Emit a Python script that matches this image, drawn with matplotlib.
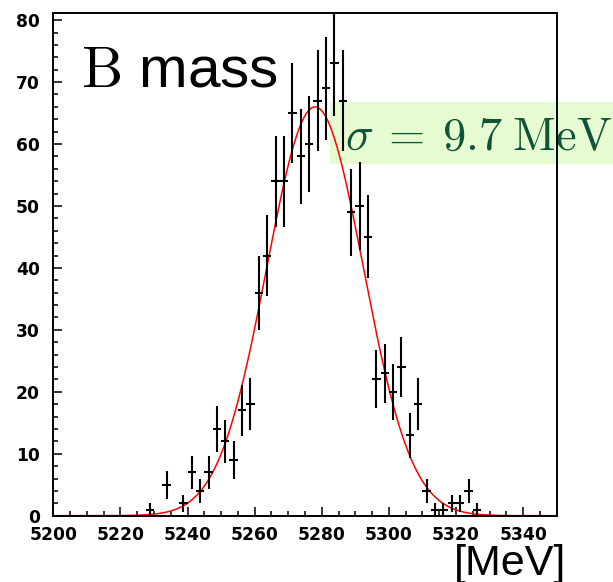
import numpy as np
import matplotlib
matplotlib.use("Agg")
import matplotlib.pyplot as plt
from matplotlib.patches import Rectangle
from matplotlib.ticker import MultipleLocator

plt.rcParams['mathtext.fontset'] = 'cm'

# ---- data ----
bin_centers = [5228.75, 5233.75, 5238.75, 5241.25, 5243.75, 5246.25, 5248.75,
               5251.25, 5253.75, 5256.25, 5258.75, 5261.25, 5263.75, 5266.25,
               5268.75, 5271.25, 5273.75, 5276.25, 5278.75, 5281.25, 5283.75,
               5286.25, 5288.75, 5291.25, 5293.75, 5296.25, 5298.75, 5301.25,
               5303.75, 5306.25, 5308.75, 5311.25, 5313.75, 5316.25, 5318.75,
               5321.25, 5323.75, 5326.25]
counts = [1, 5, 2, 7, 4, 7, 14, 12, 9, 17, 18, 36, 42, 54, 54, 65, 58, 60, 67,
          69, 73, 67, 49, 50, 45, 22, 23, 20, 24, 13, 18, 4, 1, 1, 2, 2, 4, 1]
bin_width = 2.5
fit_amp = 66.0
fit_mean = 5278.0
fit_sigma = 14.4
sigma_label = r'$\sigma\:=\:9.7\;\mathrm{MeV}$'
title_label = r'$\mathrm{B}$ mass'
unit_label = '[MeV]'

W, H = 613, 582
fig = plt.figure(figsize=(W / 100, H / 100), dpi=100)

def fx(px):
    return px / W

def fy(py):
    return 1 - py / H

ax = fig.add_axes([fx(53.3), fy(515.7), fx(556.7) - fx(53.3), fy(12.7) - fy(515.7)])
ax.set_facecolor('none')

x = np.array(bin_centers)
y = np.array(counts, dtype=float)
ax.errorbar(x, y, yerr=np.sqrt(y), xerr=bin_width / 2, fmt='none',
            ecolor='black', elinewidth=1.5, capsize=0, zorder=3)

xf = np.linspace(5200, 5350, 600)
yf = fit_amp * np.exp(-0.5 * ((xf - fit_mean) / fit_sigma) ** 2)
ax.plot(xf, yf, color='red', lw=1.1, zorder=2)

ax.set_xlim(5200, 5350)
ax.set_ylim(0, 81.2)
ax.xaxis.set_major_locator(MultipleLocator(20))
ax.xaxis.set_minor_locator(MultipleLocator(5))
ax.yaxis.set_major_locator(MultipleLocator(10))
ax.yaxis.set_minor_locator(MultipleLocator(2))
ax.tick_params(which='both', direction='in', top=False, right=False,
               width=1.1, color='black')
ax.tick_params(which='major', length=6.5)
ax.tick_params(which='minor', length=3.6)
ax.tick_params(axis='x', which='major', pad=7.5)
ax.tick_params(axis='y', which='major', pad=9.5)
for lab in ax.get_xticklabels() + ax.get_yticklabels():
    lab.set_fontfamily('DejaVu Sans')
    lab.set_fontweight('bold')
    lab.set_fontsize(12.3)
for s in ax.spines.values():
    s.set_linewidth(1.4)
    s.set_color('black')

# title inside plot
fig.text(fx(81), fy(86.7), title_label, fontsize=42, family='Liberation Sans',
         ha='left', va='baseline')

# unit label
fig.text(fx(566.7), fy(574.5), unit_label, fontsize=31, family='Liberation Sans',
         ha='right', va='baseline')

# sigma box (drawn below the axes content)
fig.patches.append(Rectangle((fx(330), fy(164)), 1 - fx(330) + 0.01, fy(101.7) - fy(164),
                             transform=fig.transFigure, facecolor='#e6fbd2',
                             edgecolor='none', zorder=-2))
fig.text(fx(345), fy(149.3), sigma_label, fontsize=33.5, color='#0d5536',
         ha='left', va='baseline', zorder=-1)

fig.savefig('out.png', dpi=100)
